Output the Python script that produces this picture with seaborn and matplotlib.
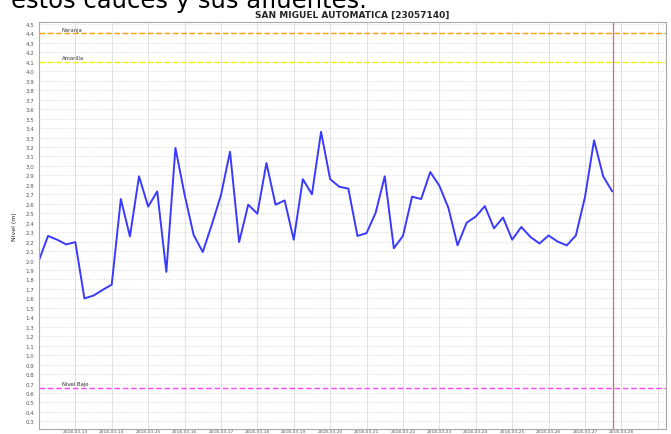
import pandas as pd
import seaborn as sns
import matplotlib.pyplot as plt

# water level readings (m), every 6 hours
start = "2018-03-12 00:00"
nivel = [2.00, 2.26, 2.22, 2.17, 2.195, 1.60, 1.63, 1.69, 1.745, 2.65,
         2.255, 2.89, 2.57, 2.73, 1.88, 3.19, 2.70, 2.27, 2.09, 2.38,
         2.69, 3.15, 2.195, 2.59, 2.495, 3.03, 2.59, 2.635, 2.22, 2.86,
         2.70, 3.36, 2.86, 2.78, 2.76, 2.26, 2.29, 2.505, 2.89, 2.13,
         2.26, 2.675, 2.65, 2.935, 2.79, 2.555, 2.16, 2.40, 2.465, 2.575,
         2.34, 2.455, 2.22, 2.355, 2.25, 2.18, 2.265, 2.20, 2.16, 2.265,
         2.67, 3.27, 2.89, 2.73]

umbral_nombres = ["Naranja", "Amarilla", "Nivel Bajo"]
umbral_valores = [4.4, 4.1, 0.65]
umbral_colores = ["#ff9a00", "#f0f000", "#ff44ff"]

ahora = "2018-03-27 18:30"

fechas = pd.date_range(start, periods=len(nivel), freq="6h")
df = pd.DataFrame({"Fecha": fechas, "Nivel": nivel})

sns.set_style("white")
fig = plt.figure(figsize=(6.71, 4.35), dpi=100)
ax = fig.add_axes([0.058, 0.0115, 0.9345, 0.9355])

sns.lineplot(data=df, x="Fecha", y="Nivel", ax=ax, color="#3a3aff", lw=1.4)

x0 = pd.Timestamp(start)
for nombre, v, c in zip(umbral_nombres, umbral_valores, umbral_colores):
    ax.axhline(v, color=c, ls="--", lw=1.0, dashes=(4, 2))
    ax.text(x0 + pd.Timedelta(hours=15), v + 0.02, nombre, fontsize=3.8,
            color="#333333", va="bottom")

ax.axvline(pd.Timestamp(ahora), color="#f06060", lw=0.9)

ax.set_ylim(0.22, 4.52)
ax.set_xlim(x0, x0 + pd.Timedelta(hours=6 * 68.9))
ax.set_yticks([i / 10 for i in range(3, 46)])
ax.set_yticklabels([f"{i / 10:.1f}" for i in range(3, 46)], fontsize=4)

ticks = pd.date_range("2018-03-13", "2018-03-29", freq="D")
ax.set_xticks(ticks)
ax.set_xticklabels([t.strftime("%Y-%m-%d") if t < ticks[-1] else "" for t in ticks],
                   fontsize=3.2, color="#555555")
ax.tick_params(axis="y", length=2, width=0.5, pad=1.5, colors="#555555")
ax.tick_params(axis="x", length=0, width=0.5, pad=0.3, colors="#555555")

ax.grid(axis="y", color="#d8d8d8", ls=":", lw=0.7)
ax.grid(axis="x", color="#e2e2e2", ls="-", lw=0.7)
for s in ax.spines.values():
    s.set_color("#aaaaaa")
    s.set_linewidth(0.8)

ax.set_xlabel("")
ax.set_ylabel("Nivel (m)", fontsize=4.5, labelpad=6)
ax.set_title("SAN MIGUEL AUTOMATICA [23057140]", fontsize=6.5,
             fontweight="bold", pad=4)

# caption of the page above the chart, cut by the screenshot
fig.text(0.017, 1.0, "estos cauces y sus afluentes.", fontsize=17.5,
         va="baseline", ha="left", color="black",
         transform=fig.transFigure + plt.matplotlib.transforms.ScaledTranslation(0, -8 / 100, fig.dpi_scale_trans))

fig.savefig("out.png", dpi=100)
